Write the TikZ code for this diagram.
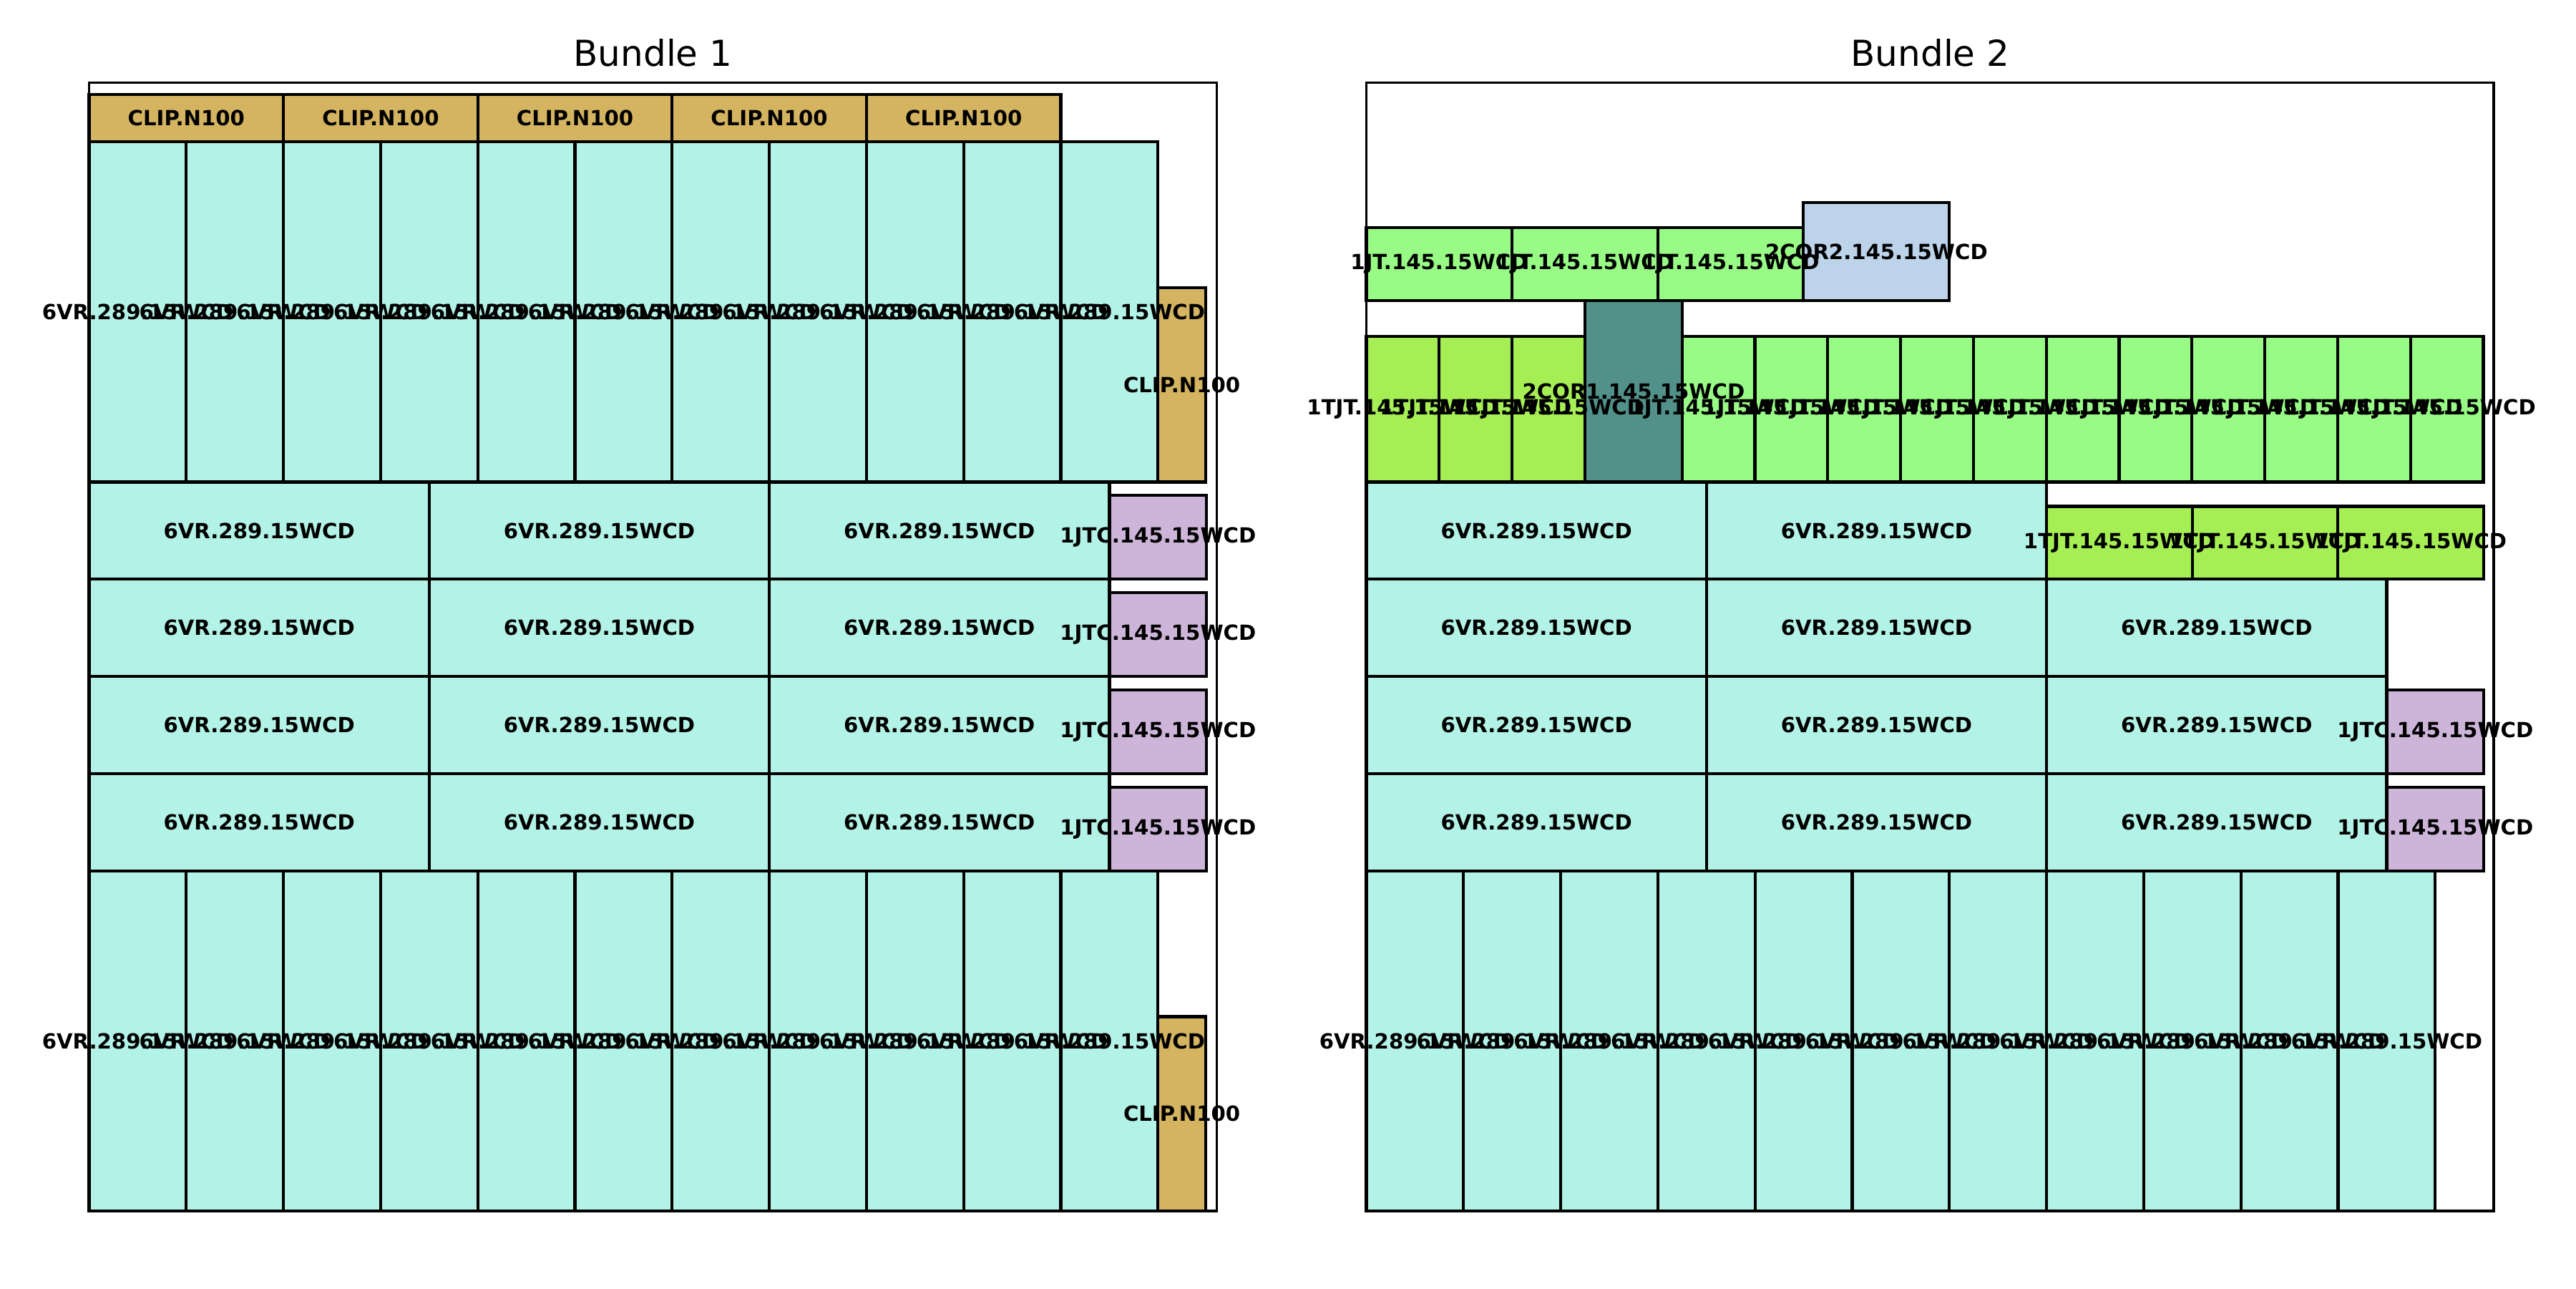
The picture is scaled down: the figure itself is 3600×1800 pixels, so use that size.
\documentclass[tikz,border=0pt]{standalone}
\usepackage{fontspec}
\setmainfont{DejaVu Sans}
\pgfdeclarelayer{frame}
\pgfdeclarelayer{fg}
\pgfsetlayers{main,frame,fg}
\definecolor{vrc}{HTML}{B3F2E6}
\definecolor{clipc}{HTML}{D4B460}
\definecolor{jtc}{HTML}{98FB86}
\definecolor{tjtc}{HTML}{A5EF55}
\definecolor{corA}{HTML}{52918A}
\definecolor{corB}{HTML}{BDD3EA}
\definecolor{jtcc}{HTML}{CDB5D9}
\tikzset{
  box/.style={draw=black, line width=1pt},
  lbl/.style={font=\fontsize{7}{8}\selectfont\bfseries, inner sep=0pt, text=black},
  ttl/.style={font=\fontsize{12}{14}\selectfont, anchor=base, inner sep=0pt},
  frm/.style={draw=black, line width=0.8pt}
}
% colour, x1, y1, x2, y2, label, name
\newcommand\bx[7]{%
  \draw[box,fill=#1] (#2,#3) rectangle (#4,#5);
  \begin{pgfonlayer}{fg}\node[lbl] (#7) at ({(#2+#4)/2},{(#3+#5)/2}) {#6};\end{pgfonlayer}%
}
\begin{document}
\begin{tikzpicture}[x=0.24pt,y=-0.24pt]
\useasboundingbox (0,0) rectangle (3600,1800);
\fill[white] (0,0) rectangle (3600,1800);
% ================= Bundle 1 =================
\node[ttl] (t1) at (912.5,92.5) {Bundle 1};
% clips row
\foreach \k in {0,...,4}{
  \pgfmathsetmacro\xa{124.5+\k*271.6}\pgfmathsetmacro\xb{\xa+271.6}
  \bx{clipc}{\xa}{131.6}{\xb}{198.2}{CLIP.N100}{a-clip\k}
}
% top vertical VR block
\foreach \k in {0,...,10}{
  \pgfmathsetmacro\xa{124.5+\k*135.8}\pgfmathsetmacro\xb{\xa+135.8}
  \bx{vrc}{\xa}{198.2}{\xb}{673.5}{6VR.289.15WCD}{a-top\k}
}
\bx{clipc}{1618.3}{401.9}{1684.9}{673.5}{CLIP.N100}{a-clipR1}
% horizontal rows
\foreach \i in {0,...,3}{
  \pgfmathsetmacro\ya{673.5+\i*135.8}\pgfmathsetmacro\yb{\ya+135.8}\pgfmathsetmacro\yc{\yb-117}
  \foreach \j in {0,1,2}{
    \pgfmathsetmacro\xa{124.5+\j*475.3}\pgfmathsetmacro\xb{\xa+475.3}
    \bx{vrc}{\xa}{\ya}{\xb}{\yb}{6VR.289.15WCD}{a-row\i-\j}
  }
  \bx{jtcc}{1550.4}{\yc}{1686.2}{\yb}{1JTC.145.15WCD}{a-jtc\i}
}
% bottom vertical VR block
\foreach \k in {0,...,10}{
  \pgfmathsetmacro\xa{124.5+\k*135.8}\pgfmathsetmacro\xb{\xa+135.8}
  \bx{vrc}{\xa}{1216.7}{\xb}{1692}{6VR.289.15WCD}{a-bot\k}
}
\bx{clipc}{1618.3}{1420.4}{1684.9}{1692}{CLIP.N100}{a-clipR2}
\begin{pgfonlayer}{frame}
\draw[frm] (124.5,115.5) rectangle (1700.5,1692);
\end{pgfonlayer}
% ================= Bundle 2 =================
\node[ttl] (t2) at (2697.5,92.5) {Bundle 2};
% top horizontal JT
\foreach \k in {0,1,2}{
  \pgfmathsetmacro\xa{1909.5+\k*203.6}\pgfmathsetmacro\xb{\xa+203.6}
  \bx{jtc}{\xa}{317.7}{\xb}{420}{1JT.145.15WCD}{b-jth\k}
}
\bx{corB}{2520.3}{283.3}{2724.3}{420}{2COR2.145.15WCD}{b-cor2}
% vertical row
\foreach \k in {0,1,2}{
  \pgfmathsetmacro\xa{1909.5+\k*101.8}\pgfmathsetmacro\xb{\xa+101.8}
  \bx{tjtc}{\xa}{469.9}{\xb}{673.5}{1TJT.145.15WCD}{b-tjtv\k}
}
\bx{corA}{2214.9}{420}{2350.7}{673.5}{2COR1.145.15WCD}{b-cor1}
\foreach \k in {0,...,10}{
  \pgfmathsetmacro\xa{2350.7+\k*101.8}\pgfmathsetmacro\xb{\xa+101.8}
  \bx{jtc}{\xa}{469.9}{\xb}{673.5}{1JT.145.15WCD}{b-jtv\k}
}
% row 0
\foreach \j in {0,1}{
  \pgfmathsetmacro\xa{1909.5+\j*475.3}\pgfmathsetmacro\xb{\xa+475.3}
  \bx{vrc}{\xa}{673.5}{\xb}{809.3}{6VR.289.15WCD}{b-row0-\j}
}
\foreach \k in {0,1,2}{
  \pgfmathsetmacro\xa{2860.1+\k*203.6}\pgfmathsetmacro\xb{\xa+203.6}
  \bx{tjtc}{\xa}{707.5}{\xb}{809.3}{1TJT.145.15WCD}{b-tjth\k}
}
% rows 1-3
\foreach \i in {1,2,3}{
  \pgfmathsetmacro\ya{673.5+\i*135.8}\pgfmathsetmacro\yb{\ya+135.8}
  \foreach \j in {0,1,2}{
    \pgfmathsetmacro\xa{1909.5+\j*475.3}\pgfmathsetmacro\xb{\xa+475.3}
    \bx{vrc}{\xa}{\ya}{\xb}{\yb}{6VR.289.15WCD}{b-row\i-\j}
  }
}
\foreach \i in {2,3}{
  \pgfmathsetmacro\yb{673.5+\i*135.8+135.8}\pgfmathsetmacro\yc{\yb-117}
  \bx{jtcc}{3335.4}{\yc}{3471.2}{\yb}{1JTC.145.15WCD}{b-jtc\i}
}
% bottom vertical VR block
\foreach \k in {0,...,10}{
  \pgfmathsetmacro\xa{1909.5+\k*135.8}\pgfmathsetmacro\xb{\xa+135.8}
  \bx{vrc}{\xa}{1216.7}{\xb}{1692}{6VR.289.15WCD}{b-bot\k}
}
\begin{pgfonlayer}{frame}
\draw[frm] (1909.5,115.5) rectangle (3485,1692);
\end{pgfonlayer}
\end{tikzpicture}
\end{document}
